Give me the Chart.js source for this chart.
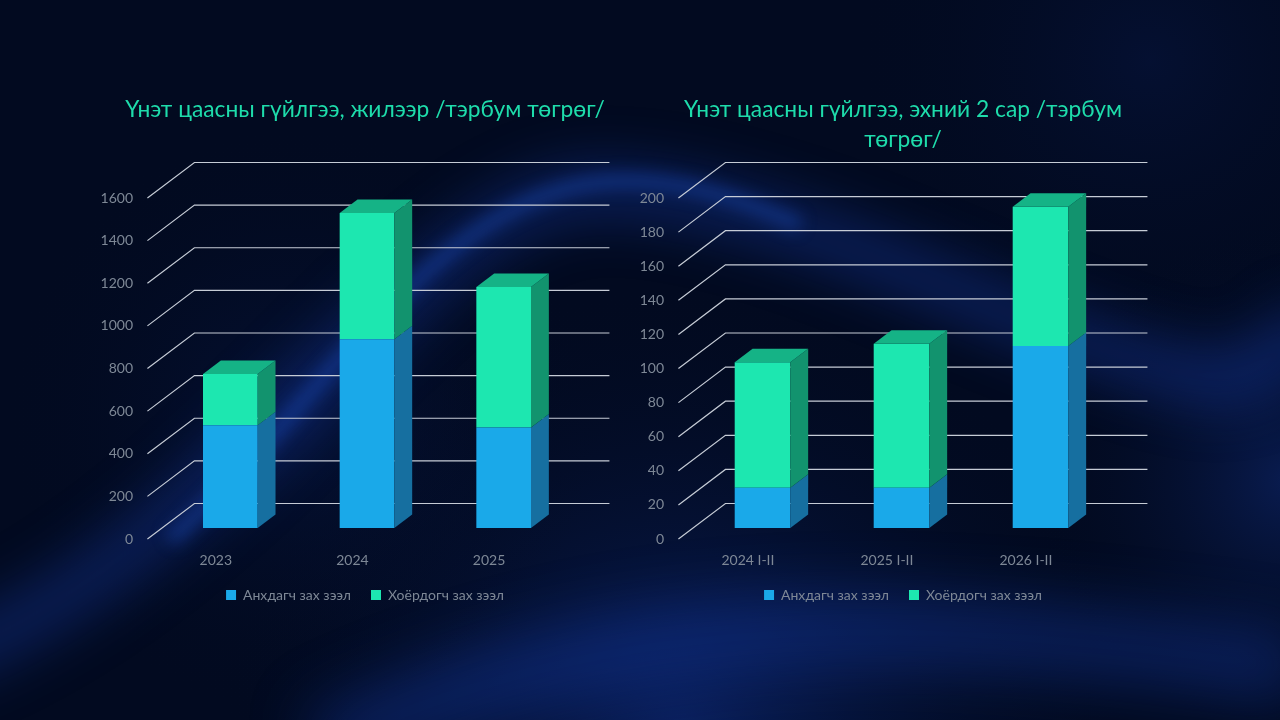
<!DOCTYPE html>
<html>
<head>
<meta charset="utf-8">
<script src="https://cdn.jsdelivr.net/npm/chart.js@4.4.1/dist/chart.umd.min.js"></script>
<style>
  html, body { margin: 0; padding: 0; width: 1280px; height: 720px; overflow: hidden; background: #020b22; }
  #bg { position: absolute; left: 0; top: 0; }
  .box { position: absolute; top: 0; width: 550px; height: 720px; }
</style>
</head>
<body>
<canvas id="bg" width="1280" height="720"></canvas>
<div class="box" style="left:90px"><canvas id="yearly" width="550" height="720"></canvas></div>
<div class="box" style="left:628px"><canvas id="monthly" width="550" height="720"></canvas></div>
<script>
// yearly chart
const yearLabels = ['2023', '2024', '2025'];
const yearPrimary = [482, 886, 472];
const yearSecondary = [241, 592, 659];
const yearTicks = [0, 200, 400, 600, 800, 1000, 1200, 1400, 1600];

// first two months chart
const periodLabels = ['2024 I-II', '2025 I-II', '2026 I-II'];
const periodPrimary = [23.6, 23.6, 106.8];
const periodSecondary = [73.6, 84.4, 81.6];
const periodTicks = [0, 20, 40, 60, 80, 100, 120, 140, 160, 180, 200];

const seriesNames = ['Анхдагч зах зээл', 'Хоёрдогч зах зээл'];

const FONT = "Lato, 'Noto Sans', sans-serif";
const GREY = '#7e8896';

// fake 3d: depth vector of the whole floor, bars sit in the middle of it
const depthX = 47, depthY = -35.5;
const frontShare = 0.31, barShare = 0.38;

// background: dark navy with a blue glowing wave
(function drawBackground() {
  const bg = document.getElementById('bg').getContext('2d');
  bg.fillStyle = '#020a20';
  bg.fillRect(0, 0, 1280, 720);
  function glow(x, y, r, color) {
    const g = bg.createRadialGradient(x, y, 0, x, y, r);
    g.addColorStop(0, color);
    g.addColorStop(1, 'rgba(2,10,32,0)');
    bg.fillStyle = g;
    bg.fillRect(0, 0, 1280, 720);
  }
  glow(680, 740, 460, 'rgba(18,55,160,0.5)');
  glow(1290, 480, 260, 'rgba(18,50,140,0.45)');
  glow(300, 420, 300, 'rgba(8,28,85,0.4)');
  glow(1150, 60, 300, 'rgba(10,30,90,0.3)');

  bg.save();
  bg.filter = 'blur(26px)';
  bg.strokeStyle = 'rgba(22,60,170,0.4)';
  bg.lineWidth = 55;
  bg.beginPath();
  bg.moveTo(-60, 660);
  bg.bezierCurveTo(250, 540, 420, 190, 600, 190);
  bg.bezierCurveTo(800, 195, 1000, 330, 1190, 375);
  bg.bezierCurveTo(1250, 390, 1270, 360, 1320, 320);
  bg.stroke();
  bg.restore();

  bg.save();
  bg.filter = 'blur(8px)';
  bg.strokeStyle = 'rgba(30,85,210,0.36)';
  bg.lineWidth = 16;
  bg.beginPath();
  bg.moveTo(170, 540);
  bg.bezierCurveTo(310, 420, 430, 200, 600, 182);
  bg.bezierCurveTo(680, 175, 740, 200, 800, 225);
  bg.stroke();
  bg.restore();

  bg.save();
  bg.filter = 'blur(30px)';
  bg.strokeStyle = 'rgba(20,60,170,0.4)';
  bg.lineWidth = 70;
  bg.beginPath();
  bg.moveTo(320, 750);
  bg.bezierCurveTo(600, 610, 900, 610, 1300, 670);
  bg.stroke();
  bg.restore();
})();

function poly(ctx, pts) {
  ctx.beginPath();
  ctx.moveTo(pts[0][0], pts[0][1]);
  for (let i = 1; i < pts.length; i++) ctx.lineTo(pts[i][0], pts[i][1]);
  ctx.closePath();
  ctx.fill();
}

const threeD = {
  id: 'threeD',
  beforeDatasetsDraw(chart) {
    const { ctx, chartArea: { left, right }, scales: { y } } = chart;
    ctx.save();
    ctx.strokeStyle = '#c6ccd6';
    ctx.lineWidth = 1.2;
    y.ticks.forEach(t => {
      const py = y.getPixelForValue(t.value);
      const fx = left - frontShare * depthX, fy = py - frontShare * depthY;
      const bx = left + (1 - frontShare) * depthX, by = py + (1 - frontShare) * depthY;
      ctx.beginPath();
      ctx.moveTo(fx, fy);
      ctx.lineTo(bx, by);
      ctx.lineTo(right + (1 - frontShare) * depthX + 5, by);
      ctx.stroke();
    });
    ctx.restore();
  },
  afterDatasetsDraw(chart) {
    const ctx = chart.ctx;
    const dx = barShare * depthX, dy = barShare * depthY;
    const last = chart.data.datasets.length - 1;
    ctx.save();
    chart.data.datasets.forEach((ds, i) => {
      chart.getDatasetMeta(i).data.forEach(bar => {
        const { x, y, base, width } = bar.getProps(['x', 'y', 'base', 'width'], true);
        const l = x - width / 2, r = x + width / 2;
        ctx.fillStyle = ds.sideColor;
        poly(ctx, [[r, y], [r + dx, y + dy], [r + dx, base + dy], [r, base]]);
        if (i === last) {
          ctx.fillStyle = ds.topColor;
          poly(ctx, [[l, y], [l + dx, y + dy], [r + dx, y + dy], [r, y]]);
        }
      });
    });
    ctx.restore();
  }
};

function makeChart(id, title, labels, primary, secondary, ticks, axisWidth, titleGap) {
  return new Chart(document.getElementById(id), {
    type: 'bar',
    data: {
      labels: labels,
      datasets: [{
        label: seriesNames[0],
        data: primary,
        backgroundColor: '#1aa9e9',
        sideColor: '#166fa0',
        topColor: '#1a8cc6',
        borderWidth: 0,
        barPercentage: 0.4,
        categoryPercentage: 1
      }, {
        label: seriesNames[1],
        data: secondary,
        backgroundColor: '#1de7b0',
        sideColor: '#12936e',
        topColor: '#15b386',
        borderWidth: 0,
        barPercentage: 0.4,
        categoryPercentage: 1
      }]
    },
    options: {
      responsive: false,
      animation: false,
      layout: { padding: { left: 0, right: 0, top: 0, bottom: 108 } },
      plugins: {
        title: {
          display: true,
          text: title,
          color: '#1edcab',
          font: { family: FONT, size: 22.8, weight: 'normal', lineHeight: 30 / 22.8 },
          padding: { top: 95, bottom: titleGap }
        },
        legend: {
          position: 'bottom',
          labels: {
            color: GREY,
            font: { family: FONT, size: 14 },
            boxWidth: 10,
            boxHeight: 10,
            padding: 20
          }
        },
        tooltip: { enabled: false }
      },
      scales: {
        x: {
          stacked: true,
          grid: { display: false, drawTicks: false },
          border: { display: false },
          ticks: {
            color: GREY,
            font: { family: FONT, size: 14 },
            labelOffset: -frontShare * depthX,
            padding: 24,
            maxRotation: 0
          },
          afterFit: s => { s.height = 40; }
        },
        y: {
          stacked: true,
          min: ticks[0],
          max: ticks[ticks.length - 1],
          afterBuildTicks: s => { s.ticks = ticks.map(v => ({ value: v })); },
          grid: { display: false, drawTicks: false },
          border: { display: false },
          ticks: {
            color: GREY,
            font: { family: FONT, size: 14 },
            labelOffset: -frontShare * depthY,
            padding: 29,
            callback: v => String(v)
          },
          afterFit: s => { s.width = axisWidth; }
        },
        yRight: {
          axis: 'y',
          position: 'right',
          grid: { display: false },
          border: { display: false },
          ticks: { display: false },
          afterFit: s => { s.width = 68; }
        }
      }
    },
    plugins: [threeD]
  });
}

makeChart('yearly', 'Үнэт цаасны гүйлгээ, жилээр /тэрбум төгрөг/',
  yearLabels, yearPrimary, yearSecondary, yearTicks, 72, 62);
makeChart('monthly', ['Үнэт цаасны гүйлгээ, эхний 2 сар /тэрбум', 'төгрөг/'],
  periodLabels, periodPrimary, periodSecondary, periodTicks, 65, 32);
</script>
</body>
</html>
